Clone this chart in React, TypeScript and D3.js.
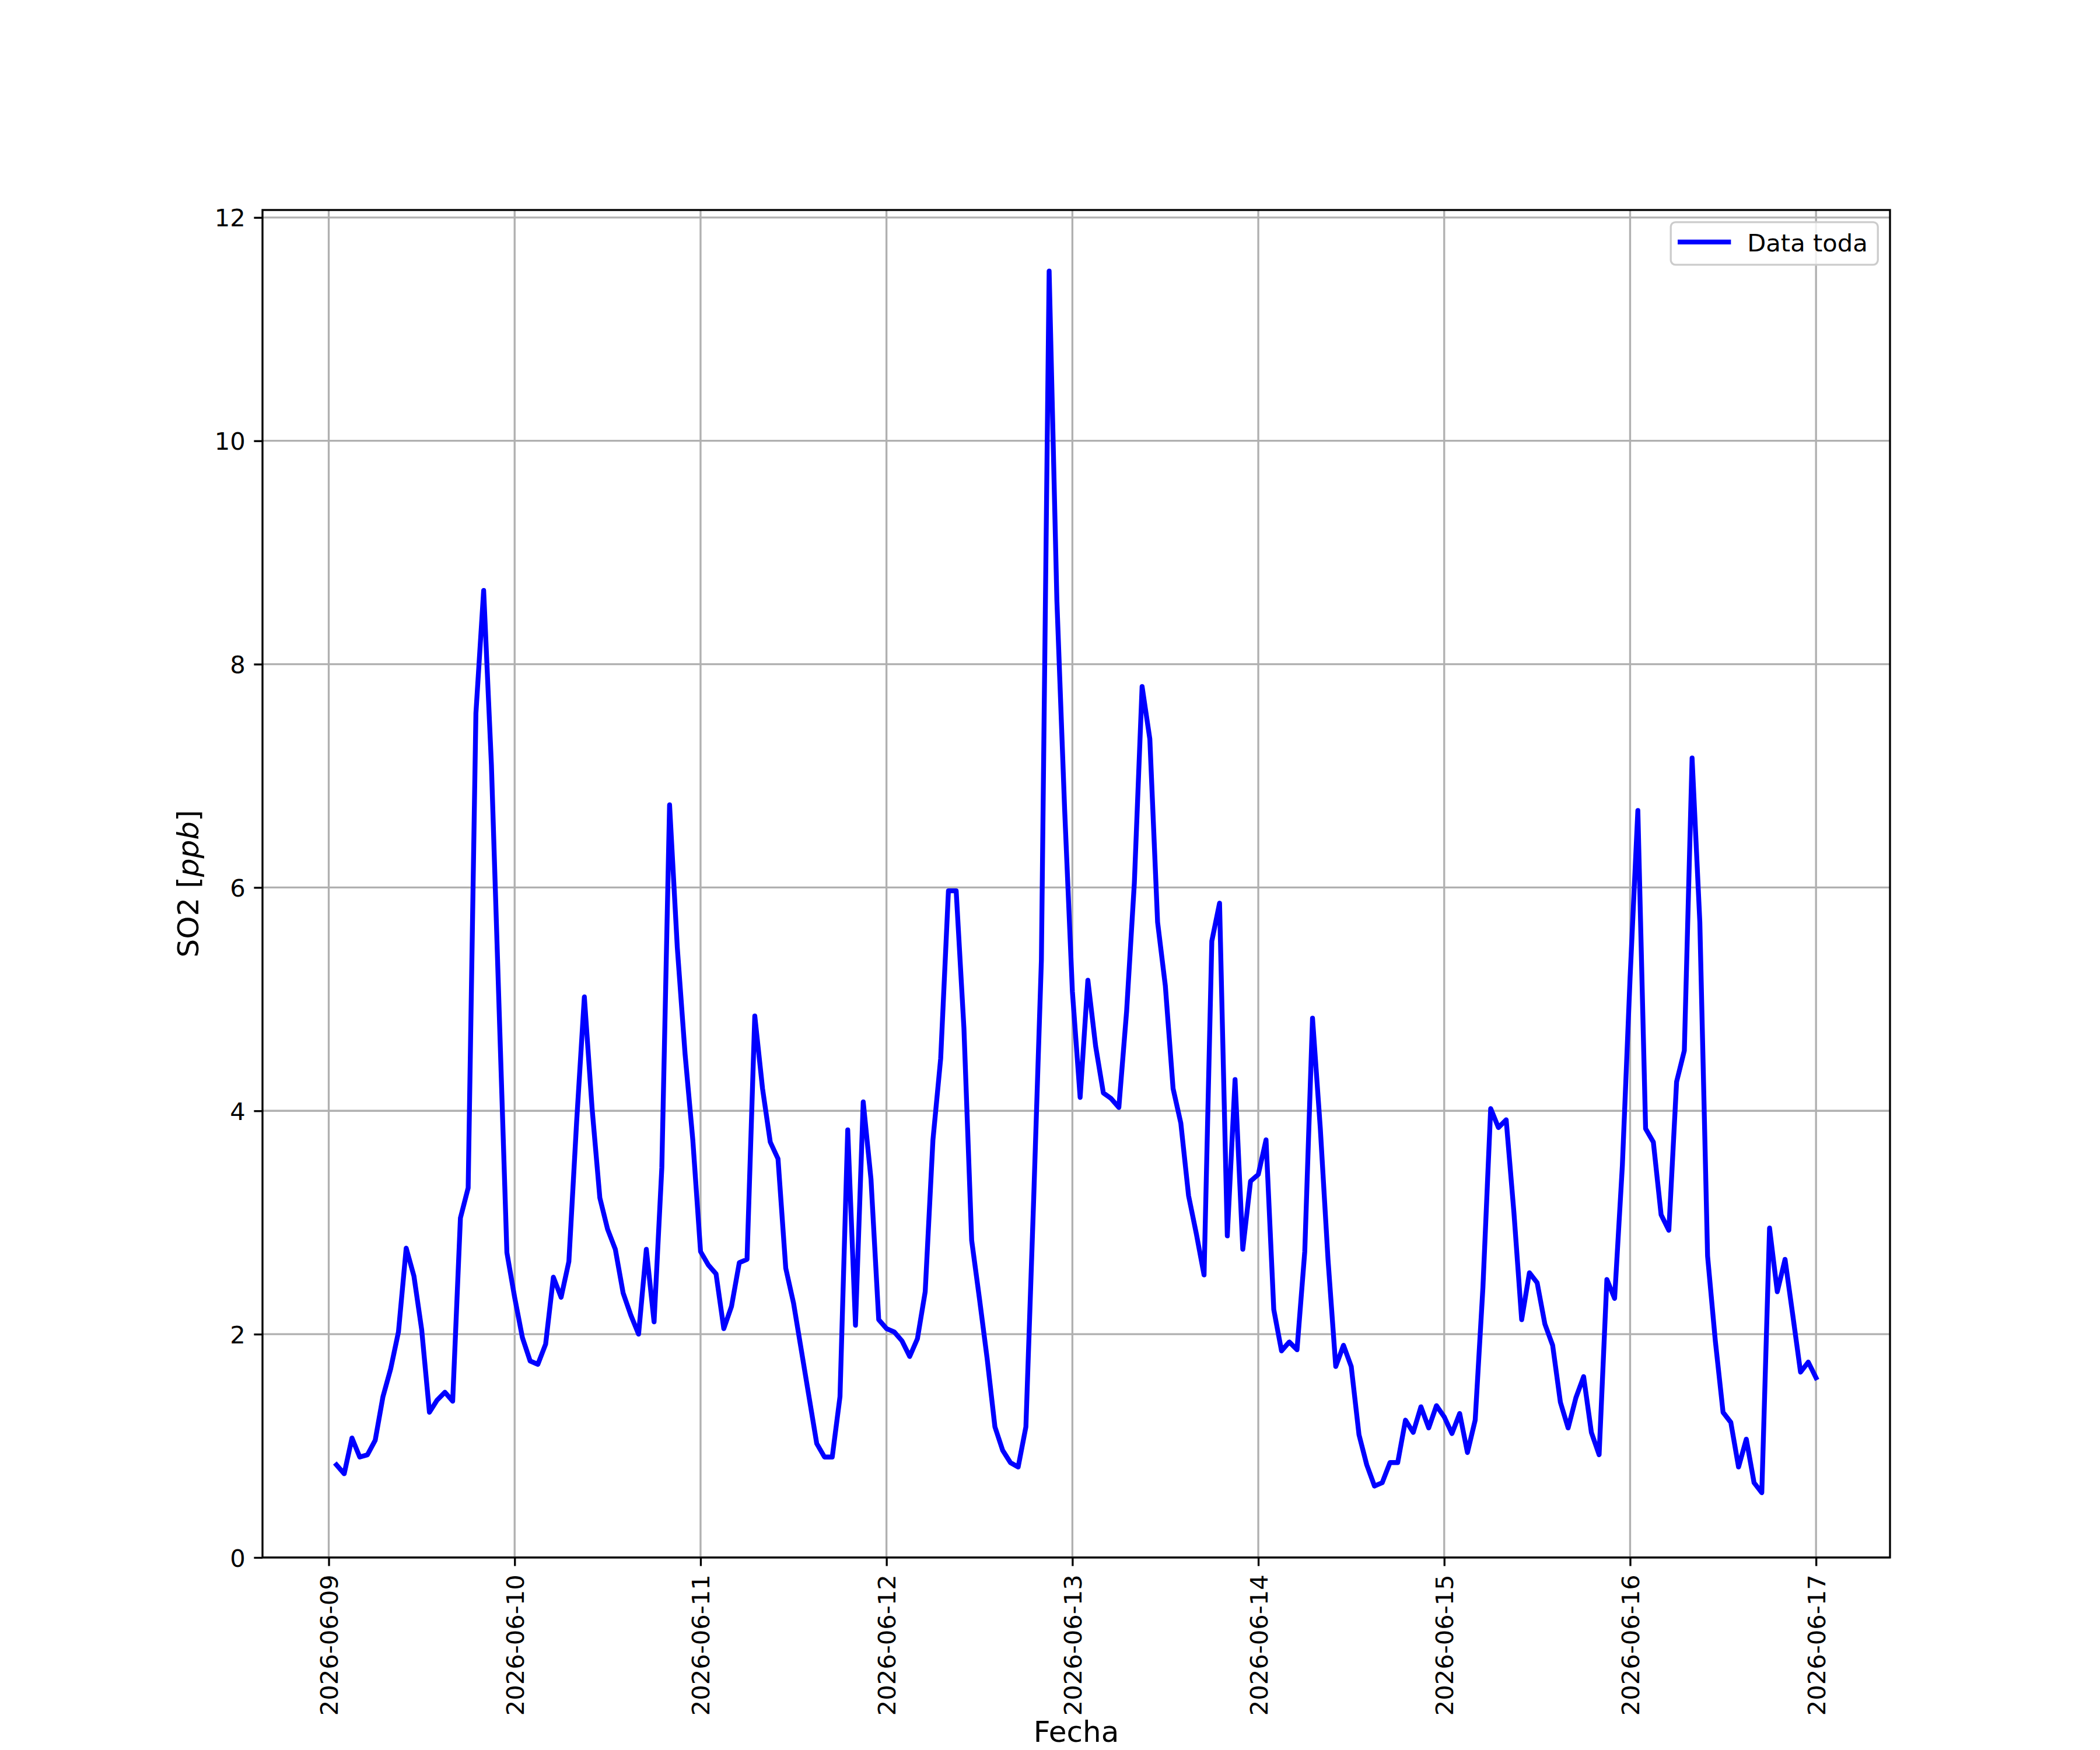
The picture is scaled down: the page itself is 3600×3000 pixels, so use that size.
import React, { useEffect, useRef } from 'react';
import * as d3 from 'd3';

// hourly SO2 readings (ppb), first reading 2026-06-09 01:00
const so2Day1 = [0.83, 0.75, 1.07, 0.90, 0.92, 1.05, 1.44, 1.69, 2.02, 2.77, 2.52, 2.04, 1.30, 1.41, 1.48, 1.40, 3.04, 3.31, 7.56, 8.66, 7.10, 4.90, 2.73, 2.33];
const so2Day2 = [1.97, 1.76, 1.73, 1.91, 2.51, 2.33, 2.65, 3.90, 5.02, 4.02, 3.22, 2.94, 2.76, 2.37, 2.17, 2.00, 2.76, 2.11, 3.49, 6.74, 5.46, 4.51, 3.74, 2.74];
const so2Day3 = [2.62, 2.54, 2.05, 2.25, 2.64, 2.67, 4.85, 4.20, 3.72, 3.57, 2.59, 2.28, 1.86, 1.44, 1.02, 0.90, 0.90, 1.44, 3.83, 2.08, 4.08, 3.39, 2.13, 2.05];
const so2Day4 = [2.02, 1.94, 1.80, 1.96, 2.38, 3.74, 4.47, 5.97, 5.97, 4.74, 2.84, 2.32, 1.78, 1.17, 0.96, 0.85, 0.81, 1.17, 3.20, 5.35, 11.52, 8.57, 6.70, 5.07];
const so2Day5 = [4.12, 5.17, 4.58, 4.16, 4.11, 4.03, 4.89, 6.04, 7.80, 7.33, 5.69, 5.12, 4.20, 3.89, 3.24, 2.90, 2.53, 5.52, 5.86, 2.88, 4.28, 2.76, 3.37, 3.43];
const so2Day6 = [3.74, 2.22, 1.85, 1.93, 1.86, 2.74, 4.83, 3.85, 2.67, 1.71, 1.90, 1.71, 1.10, 0.83, 0.64, 0.67, 0.85, 0.85, 1.23, 1.12, 1.35, 1.16, 1.36, 1.26];
const so2Day7 = [1.11, 1.29, 0.94, 1.23, 2.42, 4.02, 3.85, 3.92, 3.09, 2.13, 2.55, 2.46, 2.09, 1.90, 1.39, 1.16, 1.43, 1.62, 1.12, 0.92, 2.49, 2.32, 3.51, 5.20];
const so2Day8 = [6.69, 3.84, 3.72, 3.07, 2.93, 4.26, 4.54, 7.16, 5.69, 2.70, 1.94, 1.30, 1.21, 0.81, 1.06, 0.67, 0.58, 2.95, 2.38, 2.67, 2.17, 1.66, 1.75, 1.61];

const firstReading = '2026-06-09T01:00:00Z';
const dateTicks = ['2026-06-09', '2026-06-10', '2026-06-11', '2026-06-12', '2026-06-13', '2026-06-14', '2026-06-15', '2026-06-16', '2026-06-17'];
const yTicks = [0, 2, 4, 6, 8, 10, 12];
const seriesLabel = 'Data toda';

interface Reading {
    time: Date;
    value: number;
}

const FONT = '"DejaVu Sans", Verdana, sans-serif';

export const SO2Chart: React.FC<{ width?: number; height?: number }> = ({ width = 3600, height = 3000 }) => {
    const ref = useRef<SVGSVGElement>(null);

    const margin = { top: 360, right: 360, bottom: 330, left: 450 };
    const w = width - margin.left - margin.right;
    const h = height - margin.top - margin.bottom;

    useEffect(() => {
        document.body.style.margin = '0';
        drawChart();
        //eslint-disable-next-line
    }, []);

    const drawChart = () => {
        const svg = d3.select(ref.current);
        svg.selectAll('*').remove();

        const values = [...so2Day1, ...so2Day2, ...so2Day3, ...so2Day4, ...so2Day5, ...so2Day6, ...so2Day7, ...so2Day8];
        const start = new Date(firstReading).getTime();
        const data: Reading[] = values.map((v, i) => ({ time: new Date(start + i * 3600e3), value: v }));

        const t0 = data[0].time.getTime();
        const t1 = data[data.length - 1].time.getTime();
        const span = t1 - t0;
        const x = d3.scaleUtc()
            .domain([new Date(t0 - 0.05 * span), new Date(t1 + 0.05 * span)])
            .range([0, w]);

        const vMin = d3.min(values) ?? 0;
        const vMax = d3.max(values) ?? 1;
        const y = d3.scaleLinear()
            .domain([0, vMax + 0.05 * (vMax - vMin)])
            .range([h, 0]);

        const tickDates = dateTicks.map(d => new Date(d + 'T00:00:00Z'));

        const g = svg.append('g').attr('transform', `translate(${margin.left},${margin.top})`);

        // grid
        g.append('g').selectAll('line.vg')
            .data(tickDates)
            .enter().append('line')
            .attr('x1', d => x(d)).attr('x2', d => x(d))
            .attr('y1', 0).attr('y2', h)
            .attr('stroke', '#b0b0b0').attr('stroke-width', 3.33);
        g.append('g').selectAll('line.hg')
            .data(yTicks)
            .enter().append('line')
            .attr('x1', 0).attr('x2', w)
            .attr('y1', d => y(d)).attr('y2', d => y(d))
            .attr('stroke', '#b0b0b0').attr('stroke-width', 3.33);

        // series
        const line = d3.line<Reading>()
            .x(d => x(d.time))
            .y(d => y(d.value));
        g.append('path')
            .datum(data)
            .attr('d', line)
            .attr('fill', 'none')
            .attr('stroke', '#0000ff')
            .attr('stroke-width', 8.33)
            .attr('stroke-linejoin', 'round')
            .attr('stroke-linecap', 'square');

        // axes
        const xAxis = g.append('g')
            .attr('transform', `translate(0,${h})`)
            .call(d3.axisBottom(x).tickValues(tickDates).tickSize(14.6).tickSizeOuter(0).tickFormat((_, i) => dateTicks[i]));
        xAxis.select('.domain').remove();
        xAxis.selectAll('.tick line').attr('stroke', '#000').attr('stroke-width', 3.33);
        xAxis.selectAll('.tick text')
            .attr('font-family', FONT)
            .attr('font-size', 41.67)
            .attr('fill', '#000')
            .attr('text-anchor', 'end')
            .attr('y', 0)
            .attr('dy', '0.36em')
            .attr('transform', 'translate(0,29.2) rotate(-90)');

        const yAxis = g.append('g')
            .call(d3.axisLeft(y).tickValues(yTicks).tickSize(14.6).tickSizeOuter(0).tickFormat(d3.format('d')));
        yAxis.select('.domain').remove();
        yAxis.selectAll('.tick line').attr('stroke', '#000').attr('stroke-width', 3.33);
        yAxis.selectAll('.tick text')
            .attr('font-family', FONT)
            .attr('font-size', 41.67)
            .attr('fill', '#000')
            .attr('x', -29.2)
            .attr('dy', '0.36em');

        // frame
        g.append('rect')
            .attr('x', 0).attr('y', 0).attr('width', w).attr('height', h)
            .attr('fill', 'none').attr('stroke', '#000').attr('stroke-width', 3.33);

        // axis labels
        svg.append('text')
            .attr('x', margin.left + w / 2)
            .attr('y', 2986)
            .attr('text-anchor', 'middle')
            .attr('font-family', FONT)
            .attr('font-size', 50)
            .text('Fecha');

        const yLabel = svg.append('text')
            .attr('transform', `translate(340,${margin.top + h / 2}) rotate(-90)`)
            .attr('text-anchor', 'middle')
            .attr('font-family', FONT)
            .attr('font-size', 50);
        yLabel.append('tspan').text('SO2 [');
        yLabel.append('tspan').attr('font-style', 'italic').text('ppb');
        yLabel.append('tspan').text(']');

        // legend
        const lg = g.append('g').attr('transform', `translate(${w - 20.8 - 355},20.8)`);
        lg.append('rect')
            .attr('width', 355).attr('height', 73)
            .attr('rx', 8).attr('ry', 8)
            .attr('fill', '#fff').attr('fill-opacity', 0.8)
            .attr('stroke', '#cccccc').attr('stroke-width', 3.33);
        lg.append('line')
            .attr('x1', 16).attr('x2', 99)
            .attr('y1', 34).attr('y2', 34)
            .attr('stroke', '#0000ff').attr('stroke-width', 8.33)
            .attr('stroke-linecap', 'square');
        lg.append('text')
            .attr('x', 131)
            .attr('y', 50)
            .attr('font-family', FONT)
            .attr('font-size', 41.67)
            .text(seriesLabel);
    };

    return <svg ref={ref} width={width} height={height} style={{ display: 'block', background: '#fff' }}></svg>;
};

export default function App() {
    return <SO2Chart />;
}
